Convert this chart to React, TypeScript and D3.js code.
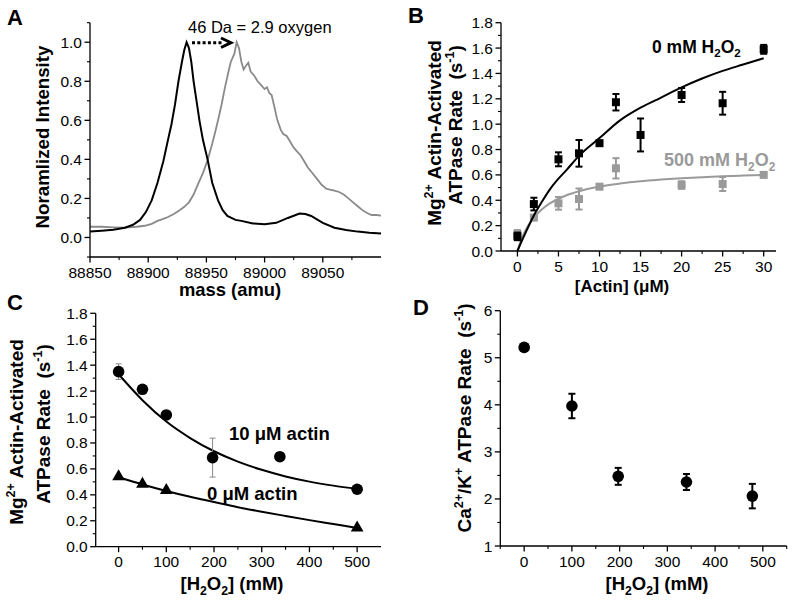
import React from "react";
import * as d3 from "d3";

const FONT = "'Liberation Sans', Arial, Helvetica, sans-serif";

// ---------------- Panel A: mass spectra ----------------
const massBlack = [88850, 88860, 88870, 88880, 88887, 88893, 88898, 88903, 88908, 88913, 88917, 88920, 88923, 88926, 88929, 88931, 88933, 88935, 88937, 88939, 88942, 88944, 88947, 88951, 88955, 88960, 88964, 88968, 88975, 88980, 88990, 89000, 89010, 89020, 89030, 89035, 89040, 89050, 89060, 89070, 89080, 89090, 89100];
const intensityBlack = [0.03, 0.035, 0.04, 0.05, 0.065, 0.09, 0.13, 0.19, 0.28, 0.39, 0.5, 0.58, 0.68, 0.8, 0.9, 0.96, 1.0, 0.97, 0.9, 0.8, 0.68, 0.6, 0.5, 0.4, 0.28, 0.19, 0.14, 0.11, 0.09, 0.085, 0.072, 0.068, 0.075, 0.1, 0.123, 0.12, 0.11, 0.075, 0.05, 0.038, 0.03, 0.024, 0.02];
const massGray = [88850, 88860, 88870, 88880, 88890, 88897, 88903, 88908, 88913, 88917, 88922, 88927, 88931, 88935, 88939, 88943, 88947, 88951, 88955, 88958, 88960, 88963, 88966, 88969, 88971, 88974, 88976, 88978, 88980, 88982, 88984, 88986, 88988, 88991, 88994, 88997, 89000, 89002, 89004, 89006, 89008, 89011, 89014, 89016, 89019, 89022, 89025, 89028, 89031, 89034, 89037, 89041, 89045, 89049, 89053, 89056, 89060, 89064, 89068, 89072, 89076, 89080, 89084, 89088, 89092, 89096, 89100];
const intensityGray = [0.055, 0.055, 0.052, 0.05, 0.055, 0.06, 0.07, 0.085, 0.095, 0.105, 0.12, 0.14, 0.157, 0.18, 0.22, 0.276, 0.33, 0.395, 0.48, 0.55, 0.6, 0.68, 0.77, 0.85, 0.9, 0.94, 1.0, 0.97, 0.9, 0.86, 0.88, 0.895, 0.85, 0.83, 0.8, 0.78, 0.76, 0.77, 0.74, 0.73, 0.68, 0.6, 0.55, 0.53, 0.52, 0.49, 0.46, 0.44, 0.42, 0.39, 0.36, 0.33, 0.3, 0.27, 0.25, 0.245, 0.24, 0.233, 0.22, 0.2, 0.18, 0.16, 0.14, 0.125, 0.115, 0.115, 0.112];
const ticksAx = [88850, 88900, 88950, 89000, 89050];
const ticksAy = [0, 0.2, 0.4, 0.6, 0.8, 1.0];

// ---------------- Panel B: actin dependence ----------------
const actin0 = [0, 2, 5, 7.5, 10, 12, 15, 20, 25, 30];
const rate0mM = [0.115, 0.37, 0.723, 0.77, 0.85, 1.173, 0.915, 1.23, 1.165, 1.59];
const err0mM = [0.03, 0.05, 0.055, 0.105, 0.02, 0.065, 0.13, 0.055, 0.09, 0.035];
const actin500 = [0, 2, 5, 7.5, 10, 12, 20, 25, 30];
const rate500mM = [0.135, 0.263, 0.376, 0.41, 0.507, 0.652, 0.52, 0.528, 0.6];
const err500mM = [0.03, 0.01, 0.05, 0.083, 0.01, 0.08, 0.03, 0.055, 0.01];
const fitActin = [0, 0.5, 1, 2, 3, 4, 5, 6, 7.5, 10, 12.5, 15, 17.5, 20, 22.5, 25, 27.5, 30];
const fit0mM = [0, 0.075, 0.145, 0.28, 0.39, 0.49, 0.57, 0.64, 0.75, 0.89, 1.03, 1.13, 1.21, 1.29, 1.36, 1.42, 1.47, 1.52];
const fit500mM = [0, 0.094, 0.165, 0.264, 0.33, 0.377, 0.412, 0.44, 0.471, 0.508, 0.532, 0.55, 0.563, 0.574, 0.582, 0.589, 0.595, 0.6];
const ticksBx = [0, 5, 10, 15, 20, 25, 30];
const ticksRate = [0, 0.2, 0.4, 0.6, 0.8, 1.0, 1.2, 1.4, 1.6, 1.8];

// ---------------- Panel C: H2O2 dependence ----------------
const h2o2Circ = [0, 50, 100, 197, 338, 500];
const rate10uM = [1.35, 1.214, 1.016, 0.687, 0.694, 0.443];
const err10uM = [0.06, 0, 0, 0.15, 0, 0];
const h2o2Tri = [0, 50, 100, 500];
const rate0uM = [0.54, 0.482, 0.435, 0.145];
const fitH2O2 = [0, 50, 100, 150, 200, 250, 300, 350, 400, 450, 500];
const fit10uM = [1.33, 1.13, 0.965, 0.838, 0.736, 0.656, 0.593, 0.542, 0.502, 0.471, 0.446];
const fit0uM = [0.535, 0.48, 0.43, 0.385, 0.345, 0.305, 0.27, 0.237, 0.205, 0.175, 0.145];
const ticksH2O2 = [0, 100, 200, 300, 400, 500];

// ---------------- Panel D: Ca/K ATPase ----------------
const h2o2D = [0, 100, 197, 340, 478];
const caKRate = [5.22, 3.975, 2.48, 2.36, 2.06];
const caKErr = [0.05, 0.26, 0.18, 0.17, 0.26];
const ticksDy = [1, 2, 3, 4, 5, 6];

type Lin = d3.ScaleLinear<number, number>;

function LeftAxis({ scale, pos, major, minor, fmt }: { scale: Lin; pos: number; major: number[]; minor: number[]; fmt: (v: number) => string }) {
  const [a, b] = scale.range();
  return (
    <g>
      <line x1={pos} x2={pos} y1={a} y2={b} stroke="#000" strokeWidth={1.3} />
      {minor.map((v) => (
        <line key={"n" + v} x1={pos - 3} x2={pos} y1={scale(v)} y2={scale(v)} stroke="#000" strokeWidth={1.1} />
      ))}
      {major.map((v) => (
        <g key={"j" + v}>
          <line x1={pos - 5.5} x2={pos} y1={scale(v)} y2={scale(v)} stroke="#000" strokeWidth={1.3} />
          <text x={pos - 8} y={scale(v) + 5.5} textAnchor="end" fontSize={15.5}>{fmt(v)}</text>
        </g>
      ))}
    </g>
  );
}

function BottomAxis({ scale, pos, major, minor, fmt }: { scale: Lin; pos: number; major: number[]; minor: number[]; fmt: (v: number) => string }) {
  const [a, b] = scale.range();
  return (
    <g>
      <line x1={a} x2={b} y1={pos} y2={pos} stroke="#000" strokeWidth={1.3} />
      {minor.map((v) => (
        <line key={"n" + v} x1={scale(v)} x2={scale(v)} y1={pos} y2={pos + 3} stroke="#000" strokeWidth={1.1} />
      ))}
      {major.map((v) => (
        <g key={"j" + v}>
          <line x1={scale(v)} x2={scale(v)} y1={pos} y2={pos + 5.5} stroke="#000" strokeWidth={1.3} />
          <text x={scale(v)} y={pos + 20.5} textAnchor="middle" fontSize={15.5}>{fmt(v)}</text>
        </g>
      ))}
    </g>
  );
}

function ErrBar({ x, y0, y1, cap, color, width }: { x: number; y0: number; y1: number; cap: number; color: string; width: number }) {
  return (
    <g stroke={color} strokeWidth={width}>
      <line x1={x} x2={x} y1={y0} y2={y1} />
      <line x1={x - cap / 2} x2={x + cap / 2} y1={y0} y2={y0} />
      <line x1={x - cap / 2} x2={x + cap / 2} y1={y1} y2={y1} />
    </g>
  );
}

const minorBetween = (lo: number, hi: number, step: number, major: number[]) =>
  d3.range(lo, hi + step / 2, step).map((v) => +v.toFixed(4)).filter((v) => !major.some((m) => Math.abs(m - v) < 1e-6));

const f1 = d3.format(".1f");
const f0 = d3.format("d");

// rich text: segments of normal / superscript / subscript text, as tspans
type Seg = [string, "n" | "sup" | "sub"];
function Rich({ parts, fs }: { parts: Seg[]; fs: number }) {
  let cur = 0;
  return (
    <>
      {parts.map(([t, k], i) => {
        const off = k === "sup" ? -fs * 0.4 : k === "sub" ? fs * 0.25 : 0;
        const dy = off - cur;
        cur = off;
        return (
          <tspan key={i} dy={dy} fontSize={k === "n" ? fs : fs * 0.66}>
            {t}
          </tspan>
        );
      })}
    </>
  );
}

export default function App() {
  // Panel A scales
  const xA = d3.scaleLinear([88850, 89100], [90, 381]);
  const yA = d3.scaleLinear([-0.1, 1.1], [257, 22.7]);
  const lineA = d3.line<[number, number]>().x((d) => xA(d[0])).y((d) => yA(d[1]));
  const blackPts = massBlack.map((m, i) => [m, intensityBlack[i]] as [number, number]);
  const grayPts = massGray.map((m, i) => [m, intensityGray[i]] as [number, number]);

  // Panel B scales
  const xB = d3.scaleLinear([-2, 31.5], [501, 776]);
  const yB = d3.scaleLinear([0, 1.8], [251, 22.7]);
  const lineB = d3.line<[number, number]>().x((d) => xB(d[0])).y((d) => yB(d[1])).curve(d3.curveMonotoneX);

  // Panel C scales
  const xC = d3.scaleLinear([-48, 550], [95.7, 381]);
  const yC = d3.scaleLinear([0, 1.8], [546.7, 313.3]);
  const lineC = d3.line<[number, number]>().x((d) => xC(d[0])).y((d) => yC(d[1])).curve(d3.curveMonotoneX);

  // Panel D scales
  const xD = d3.scaleLinear([-50, 550], [500.3, 786.7]);
  const yD = d3.scaleLinear([1, 6], [546, 310.7]);

  const GRAY_A = "#8a8a8a";
  const GRAY_B = "#9a9a9a";
  const triangle = d3.symbol().type(d3.symbolTriangle).size(70)() as string;

  const titleFs = 19;
  const mgTitle: Seg[] = [["Mg", "n"], ["2+", "sup"], [" Actin-Activated", "n"]];
  const rateTitle: Seg[] = [["ATPase Rate  (s", "n"], ["-1", "sup"], [")", "n"]];
  const h2o2Title: Seg[] = [["[H", "n"], ["2", "sub"], ["O", "n"], ["2", "sub"], ["] (mM)", "n"]];

  return (
    <svg width={795} height={604} style={{ position: "absolute", left: 0, top: 0, background: "#fff" }} fontFamily={FONT}>
      <rect x={0} y={0} width={795} height={604} fill="#fff" />

      {/* ================= Panel A ================= */}
      <text x={7} y={25} fontSize={22} fontWeight="bold">A</text>
      <path d={lineA(grayPts) as string} fill="none" stroke={GRAY_A} strokeWidth={1.8} />
      <path d={lineA(blackPts) as string} fill="none" stroke="#000" strokeWidth={2} />
      <LeftAxis scale={yA} pos={90} major={ticksAy} minor={minorBetween(-0.1, 1.1, 0.1, ticksAy)} fmt={f1} />
      <BottomAxis scale={xA} pos={257} major={ticksAx} minor={[88875, 88925, 88975, 89025, 89075]} fmt={f0} />
      <text x={188} y={33} fontSize={16.5}>46 Da = 2.9 oxygen</text>
      <line x1={192} x2={222} y1={42.7} y2={42.7} stroke="#000" strokeWidth={3} strokeDasharray="3 2.3" />
      <polyline points="221,38 231,42.7 221,47.5" fill="none" stroke="#000" strokeWidth={3} />
      <text transform="translate(49,137) rotate(-90)" textAnchor="middle" fontSize={18.7} fontWeight="bold">Noramlized Intensity</text>
      <text x={230} y={296} textAnchor="middle" fontSize={18.4} fontWeight="bold">mass (amu)</text>

      {/* ================= Panel B ================= */}
      <text x={408} y={23} fontSize={22} fontWeight="bold">B</text>
      <path d={lineB(fitActin.map((x, i) => [x, fit500mM[i]] as [number, number])) as string} fill="none" stroke={GRAY_B} strokeWidth={2} />
      {actin500.map((x, i) => (
        <g key={"g" + i}>
          <ErrBar x={xB(x)} y0={yB(rate500mM[i] - err500mM[i])} y1={yB(rate500mM[i] + err500mM[i])} cap={7} color={GRAY_B} width={2} />
          <rect x={xB(x) - 4} y={yB(rate500mM[i]) - 4} width={8} height={8} fill={GRAY_B} />
        </g>
      ))}
      <path d={lineB(fitActin.map((x, i) => [x, fit0mM[i]] as [number, number])) as string} fill="none" stroke="#000" strokeWidth={2} />
      {actin0.map((x, i) => (
        <g key={"b" + i}>
          <ErrBar x={xB(x)} y0={yB(rate0mM[i] - err0mM[i])} y1={yB(rate0mM[i] + err0mM[i])} cap={7} color="#000" width={2} />
          <rect x={xB(x) - 4} y={yB(rate0mM[i]) - 4} width={8} height={8} fill="#000" />
        </g>
      ))}
      <LeftAxis scale={yB} pos={501} major={ticksRate} minor={minorBetween(0.1, 1.7, 0.2, ticksRate)} fmt={f1} />
      <BottomAxis scale={xB} pos={251} major={ticksBx} minor={[2.5, 7.5, 12.5, 17.5, 22.5, 27.5]} fmt={f0} />
      <text x={652} y={53} fontWeight="bold">
        <Rich parts={[["0 mM H", "n"], ["2", "sub"], ["O", "n"], ["2", "sub"]]} fs={17.5} />
      </text>
      <text x={664} y={166} fontWeight="bold" fill={GRAY_B}>
        <Rich parts={[["500 mM H", "n"], ["2", "sub"], ["O", "n"], ["2", "sub"]]} fs={18} />
      </text>
      <text transform="translate(441,133) rotate(-90)" textAnchor="middle" fontWeight="bold">
        <Rich parts={mgTitle} fs={titleFs} />
      </text>
      <text transform="translate(462,125) rotate(-90)" textAnchor="middle" fontWeight="bold" style={{ whiteSpace: "pre" }}>
        <Rich parts={rateTitle} fs={titleFs} />
      </text>
      <text x={622} y={292} textAnchor="middle" fontSize={17} fontWeight="bold">[Actin] (μM)</text>

      {/* ================= Panel C ================= */}
      <text x={7} y={310} fontSize={22} fontWeight="bold">C</text>
      <path d={lineC(fitH2O2.map((x, i) => [x, fit10uM[i]] as [number, number])) as string} fill="none" stroke="#000" strokeWidth={2} />
      <path d={lineC(fitH2O2.map((x, i) => [x, fit0uM[i]] as [number, number])) as string} fill="none" stroke="#000" strokeWidth={2} />
      {h2o2Circ.map((x, i) =>
        err10uM[i] > 0 ? (
          <ErrBar key={"ce" + i} x={xC(x)} y0={yC(rate10uM[i] - err10uM[i])} y1={yC(rate10uM[i] + err10uM[i])} cap={6} color="#888" width={1} />
        ) : null
      )}
      {h2o2Circ.map((x, i) => (
        <circle key={"c" + i} cx={xC(x)} cy={yC(rate10uM[i])} r={5.8} fill="#000" />
      ))}
      {h2o2Tri.map((x, i) => (
        <path key={"t" + i} d={triangle} transform={`translate(${xC(x)},${yC(rate0uM[i])})`} fill="#000" />
      ))}
      <LeftAxis scale={yC} pos={95.7} major={ticksRate} minor={minorBetween(0.1, 1.7, 0.2, ticksRate)} fmt={f1} />
      <BottomAxis scale={xC} pos={546.7} major={ticksH2O2} minor={[50, 150, 250, 350, 450]} fmt={f0} />
      <text x={229} y={440} fontSize={18.5} fontWeight="bold">10 μM actin</text>
      <text x={207} y={500} fontSize={18.5} fontWeight="bold">0 μM actin</text>
      <text transform="translate(23,432) rotate(-90)" textAnchor="middle" fontWeight="bold">
        <Rich parts={mgTitle} fs={titleFs} />
      </text>
      <text transform="translate(50,424) rotate(-90)" textAnchor="middle" fontWeight="bold" style={{ whiteSpace: "pre" }}>
        <Rich parts={rateTitle} fs={titleFs} />
      </text>
      <text x={232} y={590} textAnchor="middle" fontWeight="bold">
        <Rich parts={h2o2Title} fs={18.5} />
      </text>

      {/* ================= Panel D ================= */}
      <text x={413} y={315} fontSize={22} fontWeight="bold">D</text>
      {h2o2D.map((x, i) => (
        <g key={"d" + i}>
          <ErrBar x={xD(x)} y0={yD(caKRate[i] - caKErr[i])} y1={yD(caKRate[i] + caKErr[i])} cap={7} color="#000" width={2} />
          <circle cx={xD(x)} cy={yD(caKRate[i])} r={5.8} fill="#000" />
        </g>
      ))}
      <LeftAxis scale={yD} pos={500.3} major={ticksDy} minor={[1.5, 2.5, 3.5, 4.5, 5.5]} fmt={f0} />
      <BottomAxis scale={xD} pos={546} major={ticksH2O2} minor={[-50, 50, 150, 250, 350, 450, 550]} fmt={f0} />
      <text transform="translate(471,418) rotate(-90)" textAnchor="middle" fontWeight="bold" style={{ whiteSpace: "pre" }}>
        <Rich parts={[["Ca", "n"], ["2+", "sup"], ["/K", "n"], ["+", "sup"], [" ATPase Rate  (s", "n"], ["-1", "sup"], [")", "n"]]} fs={titleFs} />
      </text>
      <text x={657} y={590} textAnchor="middle" fontWeight="bold">
        <Rich parts={h2o2Title} fs={18.5} />
      </text>
    </svg>
  );
}
